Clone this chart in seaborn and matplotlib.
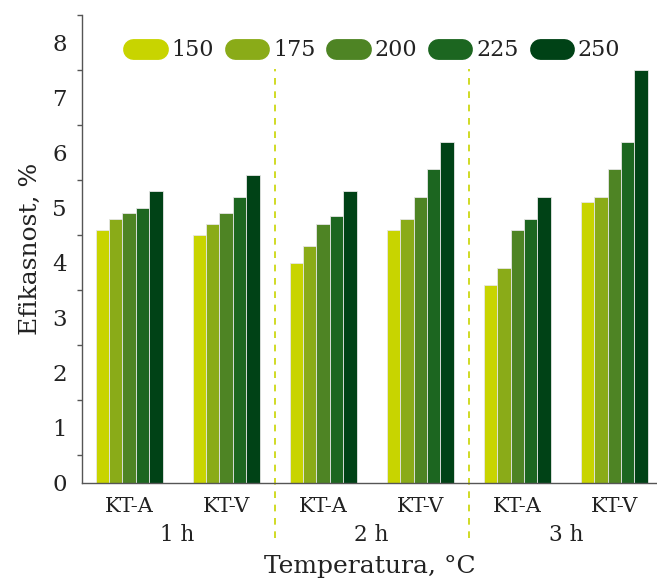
import matplotlib
matplotlib.use("Agg")
import matplotlib.pyplot as plt
from matplotlib.lines import Line2D
from matplotlib.ticker import MultipleLocator
import seaborn as sns
import pandas as pd

# Efficiency (%) per catalyst group and temperature
groups = ["1 h KT-A", "1 h KT-V", "2 h KT-A", "2 h KT-V", "3 h KT-A", "3 h KT-V"]
group_ticks = ["KT-A", "KT-V", "KT-A", "KT-V", "KT-A", "KT-V"]
durations = ["1 h", "2 h", "3 h"]
temperatures = ["150", "175", "200", "225", "250"]
t150 = [4.6, 4.5, 4.0, 4.6, 3.6, 5.1]
t175 = [4.8, 4.7, 4.3, 4.8, 3.9, 5.2]
t200 = [4.9, 4.9, 4.7, 5.2, 4.6, 5.7]
t225 = [5.0, 5.2, 4.85, 5.7, 4.8, 6.2]
t250 = [5.3, 5.6, 5.3, 6.2, 5.2, 7.5]
colors = ["#c8d400", "#8aab18", "#4e8424", "#1c6620", "#004216"]

series = [t150, t175, t200, t225, t250]
rows = []
for temp, vals in zip(temperatures, series):
    for g, v in zip(groups, vals):
        rows.append({"group": g, "temp": temp, "value": v})
df = pd.DataFrame(rows)

sns.set_theme(style="white")
plt.rcParams["font.family"] = ["DejaVu Serif"]
text_color = "#222222"
axis_color = "#555555"

fig = plt.figure(figsize=(6.57, 5.79), dpi=100)
ax = fig.add_axes([0.1248, 0.166, 0.8752, 0.808])

sns.barplot(data=df, x="group", y="value", hue="temp", order=groups,
            hue_order=temperatures, palette=colors, width=0.69, saturation=1,
            edgecolor="#e6e6e6", linewidth=0.6, legend=False, ax=ax)

ax.set_xlim(-0.485, 5.44)
ax.set_ylim(0, 8.5)
ax.yaxis.set_major_locator(MultipleLocator(1))
ax.yaxis.set_minor_locator(MultipleLocator(0.5))
ax.set_xticks(range(len(groups)))
ax.set_xticklabels(group_ticks)

for side in ["top", "right"]:
    ax.spines[side].set_visible(False)
for side in ["left", "bottom"]:
    ax.spines[side].set_color(axis_color)
    ax.spines[side].set_linewidth(1.0)

ax.tick_params(axis="both", which="major", direction="out", length=6,
               width=1.0, color=axis_color, labelcolor=text_color)
ax.tick_params(axis="x", which="major", labelsize=15, pad=4)
ax.tick_params(axis="y", which="major", labelsize=16.5, pad=5)
ax.tick_params(axis="y", which="minor", direction="out", length=3.5,
               width=1.0, color=axis_color, left=True)

ax.set_xlabel("")
ax.set_ylabel("Efikasnost, %", fontsize=18, color=text_color, labelpad=7)

# Duration labels under each pair of groups
for i, d in enumerate(durations):
    ax.text(2 * i + 0.5, -0.112, d, transform=ax.get_xaxis_transform(),
            ha="center", va="center", fontsize=15.5, color=text_color)

fig.text(0.563, 0.022, "Temperatura, °C", ha="center", va="center",
         fontsize=18, color=text_color)

# Dashed separators between durations
for xs in [1.5, 3.5]:
    ax.plot([xs, xs], [-0.117, 0.885], transform=ax.get_xaxis_transform(),
            color="#c8d400", lw=1.2, ls=(0, (4, 4)), clip_on=False)

handles = [Line2D([0], [0], color=c, lw=15, solid_capstyle="round")
           for c in colors]
ax.legend(handles, temperatures, loc="upper left", bbox_to_anchor=(0.0894, 0.948),
          ncol=5, frameon=False, fontsize=16, handlelength=1.09,
          handletextpad=0.62, columnspacing=0.95, borderpad=0,
          borderaxespad=0, labelcolor=text_color)

fig.savefig("out.png", dpi=100)
